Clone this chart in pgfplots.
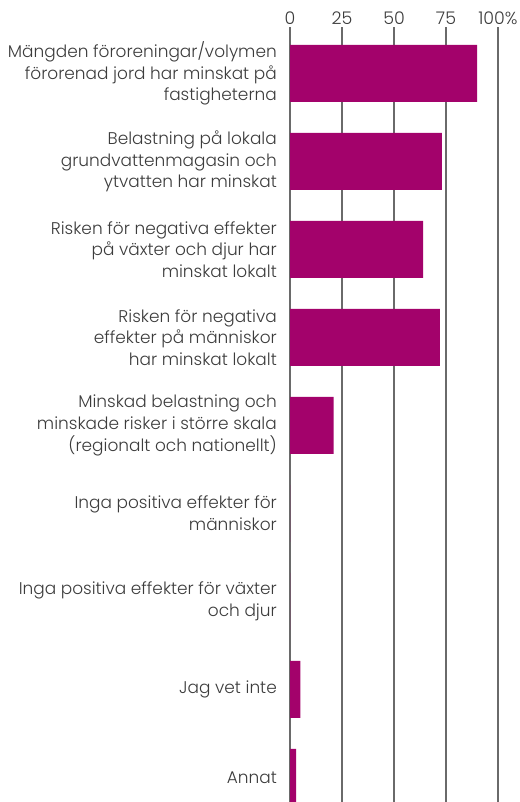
\documentclass[border=0pt]{standalone}
\usepackage{fontspec}
\setmainfont{Poppins}[UprightFont=* Light]
\usepackage{pgfplots}
\pgfplotsset{compat=1.18}
\definecolor{barcol}{HTML}{A3026B}
\definecolor{txt}{HTML}{3C3C3C}
\definecolor{gridcol}{HTML}{6A6A6A}

\begin{document}
\begin{tikzpicture}
    \begin{axis}[
        at={(290bp,-802bp)},
        anchor=south west,
        scale only axis,
        width=208bp,
        height=775bp,
        xbar,
        bar width=0.648,
        xmin=0, xmax=100,
        ymin=-0.528, ymax=8.28,
        y dir=reverse,
        clip=false,
        axis line style={draw=none},
        xticklabel pos=upper,
        xtick={0,25,50,75,100},
        xticklabels={0,25,50,75,100\%},
        ytick={0,...,8},
        yticklabels={
            {Mängden föroreningar/volymen\\förorenad jord har minskat på\\fastigheterna},
            {Belastning på lokala\\grundvattenmagasin och\\ytvatten har minskat},
            {Risken för negativa effekter\\på växter och djur har\\minskat lokalt},
            {Risken för negativa\\effekter på människor\\har minskat lokalt},
            {Minskad belastning och\\minskade risker i större skala\\(regionalt och nationellt)},
            {Inga positiva effekter för\\människor},
            {Inga positiva effekter för växter\\och djur},
            {Jag vet inte},
            {Annat}
        },
        major tick length=0pt,
        xmajorgrids,
        major grid style={draw=gridcol, line width=1.2bp},
        xticklabel style={font=\fontsize{17.5}{20}\selectfont, text=txt, inner sep=0pt, yshift=2bp},
        yticklabel style={font=\fontsize{17}{21.7}\selectfont, text=txt, align=right, inner sep=0pt, xshift=-13bp},
    ]
        \addplot[fill=barcol, draw=none] coordinates {
            (90,0) (73,1) (64,2) (72,3) (21,4) (0,5) (0,6) (5,7) (3,8)
        };
    \end{axis}
    \pgfresetboundingbox
    \useasboundingbox (0,0) rectangle (520bp,-802bp);
\end{tikzpicture}
\end{document}
